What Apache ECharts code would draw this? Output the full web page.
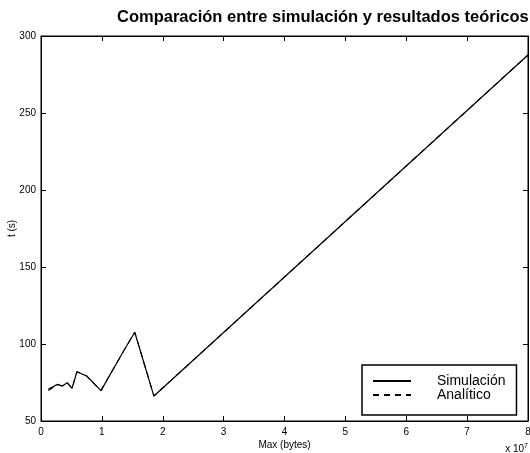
<!DOCTYPE html>
<html>
<head>
<meta charset="utf-8">
<script src="https://cdn.jsdelivr.net/npm/echarts@6/dist/echarts.min.js"></script>
<style>
  html, body { margin: 0; padding: 0; background: #fff; }
  #chart { width: 530px; height: 453px; }
</style>
</head>
<body>
<div id="chart"></div>
<script>
// File size in bytes and measured time in seconds
const maxBytes = [1.2e6, 2.7e6, 3.5e6, 4.3e6, 5.1e6, 5.9e6, 7.5e6, 9.85e6, 13.5e6, 15.4e6, 18.55e6, 80e6];
const simulacion = [70.6, 73.8, 72.7, 74.9, 71.2, 82.0, 79.2, 69.7, 95.0, 107.6, 66.2, 287.7];
const analitico = [69.8, 73.6, 72.7, 74.9, 71.2, 82.0, 79.2, 69.7, 95.0, 107.6, 66.2, 287.7];

const xTicks = [0, 1, 2, 3, 4, 5, 6, 7, 8];   // in units of 10^7 bytes
const yTicks = [50, 100, 150, 200, 250, 300];

const FONT = 'Liberation Sans, Arial, Helvetica, sans-serif';
const chart = echarts.init(document.getElementById('chart'), null, { renderer: 'canvas' });

const pairs = (xs, ys) => xs.map((x, i) => [x, ys[i]]);

const axisLine = { show: true, onZero: false, lineStyle: { color: '#000', width: 1 } };
const tickIn = { show: true, inside: true, length: 5, lineStyle: { color: '#000', width: 1 } };

chart.setOption({
  animation: false,
  backgroundColor: '#fff',
  title: {
    text: 'Comparación entre simulación y resultados teóricos',
    left: 117, top: 9,
    padding: 0,
    textStyle: { fontFamily: FONT, fontSize: 16.5, fontWeight: 'bold', color: '#000' }
  },
  grid: {
    left: 41, right: 2, top: 36, bottom: 32,
    outerBoundsMode: 'none', containLabel: false,
    show: true, borderColor: '#000', borderWidth: 1, backgroundColor: 'transparent'
  },
  legend: {
    orient: 'vertical',
    left: 362, top: 365,
    padding: [9, 11, 13, 10],
    itemGap: 0,
    itemWidth: 38, itemHeight: 13,
    borderColor: '#000', borderWidth: 1.5,
    backgroundColor: '#fff',
    itemStyle: { opacity: 0 },
    data: ['Simulación', 'Analítico'],
    textStyle: { fontFamily: FONT, fontSize: 14, color: '#000', padding: [0, 0, 0, 21] }
  },
  xAxis: [{
    type: 'value', min: 0, max: 8e7, interval: 1e7,
    name: 'Max (bytes)', nameLocation: 'middle', nameGap: 19, nameMoveOverlap: false,
    nameTextStyle: { fontFamily: FONT, fontSize: 10, color: '#000' },
    axisLine, axisTick: tickIn, splitLine: { show: false },
    axisLabel: { margin: 6, fontFamily: FONT, fontSize: 10, color: '#000', showMaxLabel: true,
      formatter: v => String(xTicks[Math.round(v / 1e7)]) }
  }, {
    type: 'value', position: 'top', min: 0, max: 8e7, interval: 1e7,
    axisLine, axisTick: tickIn, axisLabel: { show: false }, splitLine: { show: false }
  }],
  yAxis: [{
    type: 'value', min: 50, max: 300, interval: 50,
    name: 't (s)', nameLocation: 'middle', nameGap: 24, nameMoveOverlap: false,
    nameTextStyle: { fontFamily: FONT, fontSize: 10, color: '#000' },
    axisLine, axisTick: tickIn, splitLine: { show: false },
    axisLabel: { margin: 5, fontFamily: FONT, fontSize: 10, color: '#000',
      formatter: v => yTicks.includes(v) ? String(v) : '' }
  }, {
    type: 'value', position: 'right', min: 50, max: 300, interval: 50,
    axisLine, axisTick: tickIn, axisLabel: { show: false }, splitLine: { show: false }
  }],
  graphic: [{
    type: 'text', right: 2, top: 443,
    style: {
      text: 'x 10{sup|7}', fill: '#000',
      font: '10px ' + FONT,
      rich: { sup: { fontSize: 7, verticalAlign: 'top', padding: [0, 0, 6, 0], fontFamily: FONT } }
    }
  }],
  series: [{
    name: 'Analítico', type: 'line', showSymbol: false, symbol: 'none',
    data: pairs(maxBytes, analitico),
    lineStyle: { color: '#000', width: 1.1, type: [6, 5] },
    itemStyle: { color: '#000' }, z: 2
  }, {
    name: 'Simulación', type: 'line', showSymbol: false, symbol: 'none',
    data: pairs(maxBytes, simulacion),
    lineStyle: { color: '#000', width: 1.2, type: 'solid' },
    itemStyle: { color: '#000' }, z: 3
  }]
});
</script>
</body>
</html>
